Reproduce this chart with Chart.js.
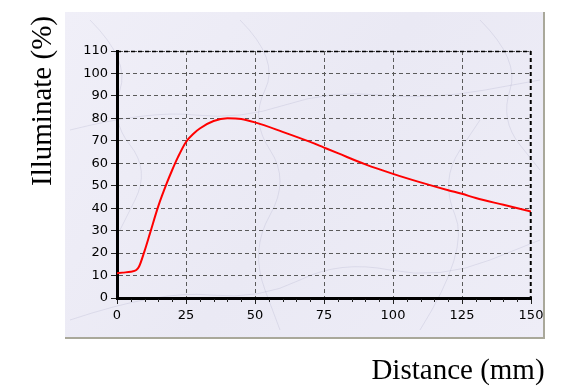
<!DOCTYPE html>
<html>
<head>
<meta charset="utf-8">
<script src="https://cdn.jsdelivr.net/npm/chart.js@4.4.1/dist/chart.umd.min.js"></script>
<style>
html,body{margin:0;padding:0;background:#fff;}
#wrap{width:584px;height:390px;position:relative;}
</style>
</head>
<body>
<div id="wrap"><canvas id="c" width="584" height="390"></canvas></div>
<script>
// Data
const distanceMm = [0, 2, 5, 7, 8, 10, 12, 15, 18, 20, 22, 25, 28, 30, 35, 40, 45, 50, 60, 70, 75, 80, 90, 100, 110, 120, 125, 130, 140, 150];
const illuminatePct = [11, 11.3, 11.7, 12.5, 14, 21, 29, 41, 51, 57, 62.5, 69.5, 73.5, 75.5, 78.8, 80, 79.7, 78.2, 74, 69.5, 67, 64.5, 59.5, 55.3, 51.5, 48, 46.4, 44.5, 41.5, 38.5];
const xTitle = 'Distance (mm)';
const yTitle = 'Illuminate (%)';
const xMin = 0, xMax = 150, xStep = 25, xMinorStep = 5;
const yMin = 0, yMax = 110, yStep = 10;

const points = distanceMm.map((d, i) => ({x: d, y: illuminatePct[i]}));

const panelPlugin = {
  id: 'panel',
  beforeDraw(chart) {
    const ctx = chart.ctx;
    ctx.save();
    const g = ctx.createLinearGradient(65, 12, 544, 338);
    g.addColorStop(0, '#f0eff8');
    g.addColorStop(0.5, '#eae9f4');
    g.addColorStop(1, '#eeedf7');
    ctx.fillStyle = g;
    ctx.fillRect(65, 12, 479, 326);
    ctx.strokeStyle = 'rgba(140,140,180,0.18)';
    ctx.lineWidth = 1;
    const veins = [
      [[90,20],[130,60],[110,120],[150,170],[120,230]],
      [[240,20],[280,60],[250,120],[290,180],[250,250],[280,330]],
      [[480,20],[520,60],[500,120],[540,170]],
      [[70,320],[160,290],[260,300],[340,260],[440,280],[540,240]],
      [[70,130],[150,110],[240,120],[330,90],[430,100],[540,80]],
      [[420,330],[470,250],[440,180],[480,120]]
    ];
    veins.forEach(v => {
      ctx.beginPath();
      ctx.moveTo(v[0][0], v[0][1]);
      for (let i = 1; i < v.length - 1; i++) {
        const mx = (v[i][0] + v[i+1][0]) / 2, my = (v[i][1] + v[i+1][1]) / 2;
        ctx.quadraticCurveTo(v[i][0], v[i][1], mx, my);
      }
      const l = v[v.length - 1];
      ctx.lineTo(l[0], l[1]);
      ctx.stroke();
    });
    ctx.fillStyle = '#a9a89a';
    ctx.fillRect(543, 12, 2, 327);
    ctx.fillRect(65, 337, 480, 2);
    ctx.restore();
  },
  afterDraw(chart) {
    const ctx = chart.ctx;
    const a = chart.chartArea;
    const xs = chart.scales.x;
    ctx.save();
    ctx.strokeStyle = '#000';
    ctx.lineWidth = 1.5;
    ctx.setLineDash([4, 3]);
    ctx.beginPath();
    ctx.moveTo(a.left, a.top + 0.5);
    ctx.lineTo(a.right, a.top + 0.5);
    ctx.moveTo(a.right - 0.5, a.top);
    ctx.lineTo(a.right - 0.5, a.bottom);
    ctx.stroke();
    ctx.setLineDash([]);
    ctx.lineWidth = 1;
    ctx.strokeStyle = '#222';
    ctx.beginPath();
    for (let v = xMin; v <= xMax; v += xMinorStep) {
      if (v % xStep === 0) continue;
      const px = Math.round(xs.getPixelForValue(v)) + 0.5;
      ctx.moveTo(px, a.bottom + 1);
      ctx.lineTo(px, a.bottom + 4);
    }
    ctx.stroke();
    ctx.fillStyle = '#000';
    ctx.font = '29px "Liberation Serif", "Times New Roman", serif';
    ctx.textAlign = 'center';
    ctx.textBaseline = 'alphabetic';
    ctx.fillText(xTitle, 458, 379);
    ctx.translate(51, 101);
    ctx.rotate(-Math.PI / 2);
    ctx.fillText(yTitle, 0, 0);
    ctx.restore();
  }
};

const tickFont = { family: '"DejaVu Sans", Verdana, sans-serif', size: 13 };

new Chart(document.getElementById('c'), {
  type: 'line',
  data: {
    datasets: [{
      data: points,
      borderColor: '#ff0000',
      borderWidth: 2,
      pointRadius: 0,
      fill: false,
      cubicInterpolationMode: 'monotone'
    }]
  },
  options: {
    responsive: false,
    animation: false,
    events: [],
    layout: { padding: { left: 67, right: 53, top: 51, bottom: 62 } },
    plugins: { legend: { display: false }, tooltip: { enabled: false } },
    scales: {
      x: {
        type: 'linear',
        min: xMin, max: xMax,
        afterFit(s) { s.height = 30; },
        ticks: { stepSize: xStep, color: '#000', font: tickFont, padding: 4, maxRotation: 0 },
        grid: { color: '#5a5a5a', lineWidth: 1, tickLength: 6, tickColor: '#222', tickWidth: 1, tickBorderDash: [] },
        border: { display: true, color: '#000', width: 3, dash: [4, 3] }
      },
      y: {
        min: yMin, max: yMax,
        afterFit(s) { s.width = 50; },
        ticks: { stepSize: yStep, color: '#000', font: tickFont, padding: 3 },
        grid: { color: '#5a5a5a', lineWidth: 1, tickLength: 6, tickColor: '#222', tickWidth: 1, tickBorderDash: [] },
        border: { display: true, color: '#000', width: 3, dash: [4, 3] }
      }
    }
  },
  plugins: [panelPlugin]
});
</script>
</body>
</html>
